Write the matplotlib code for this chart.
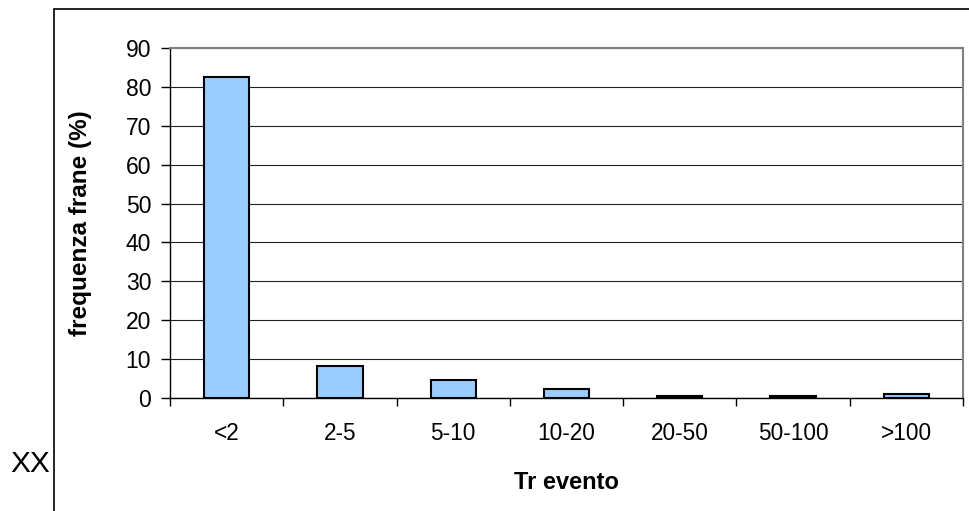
import matplotlib.pyplot as plt
from matplotlib.patches import Rectangle

plt.rcParams['font.family'] = ['Liberation Sans', 'DejaVu Sans']

# frequenza delle frane per classe di tempo di ritorno
categorie = ['<2', '2-5', '5-10', '10-20', '20-50', '50-100', '>100']
frequenza = [82.5, 8.3, 4.6, 2.4, 0.4, 0.4, 1.0]

fig = plt.figure(figsize=(9.7, 5.11), dpi=100)

# cornice esterna del grafico
fig.patches.append(Rectangle((54.5 / 970, -0.1), 1.0, 1.1 - 9.5 / 511, transform=fig.transFigure,
                             fill=False, edgecolor='black', linewidth=1.2))

ax = fig.add_axes([170 / 970, 1 - 398 / 511, (963 - 170) / 970, (398 - 48) / 511])

x = range(len(categorie))
ax.bar(x, frequenza, width=0.4, color='#99CCFF', edgecolor='black', linewidth=1.5, zorder=3)

ax.set_xlim(-0.5, len(categorie) - 0.5)
ax.set_ylim(0, 90)
ax.set_yticks(range(0, 91, 10))
ax.yaxis.grid(True, color='#222222', linewidth=0.8, zorder=0)

# tacche dell'asse x tra le categorie
ax.set_xticks([i - 0.5 for i in range(len(categorie) + 1)])
ax.set_xticklabels([])
ax.set_xticks(list(x), minor=True)
ax.set_xticklabels(categorie, minor=True)
ax.tick_params(axis='x', which='minor', length=0, pad=17, labelsize=16.3)
ax.tick_params(axis='x', which='major', length=6, width=1, direction='out')
ax.tick_params(axis='y', length=6.5, width=1, direction='out', labelsize=16.5, pad=7)

for s in ['top', 'right']:
    ax.spines[s].set_color('#808080')
    ax.spines[s].set_linewidth(1.5)
for s in ['left', 'bottom']:
    ax.spines[s].set_color('black')
    ax.spines[s].set_linewidth(1)

ax.set_ylabel('frequenza frane (%)', fontsize=17.5, fontweight='bold', labelpad=24)
ax.set_xlabel('Tr evento', fontsize=17, fontweight='bold', labelpad=19)

fig.text(10 / 970, 1 - 464 / 511, 'XX', fontsize=21.5, va='center', ha='left')

fig.savefig('out.png', dpi=100)
